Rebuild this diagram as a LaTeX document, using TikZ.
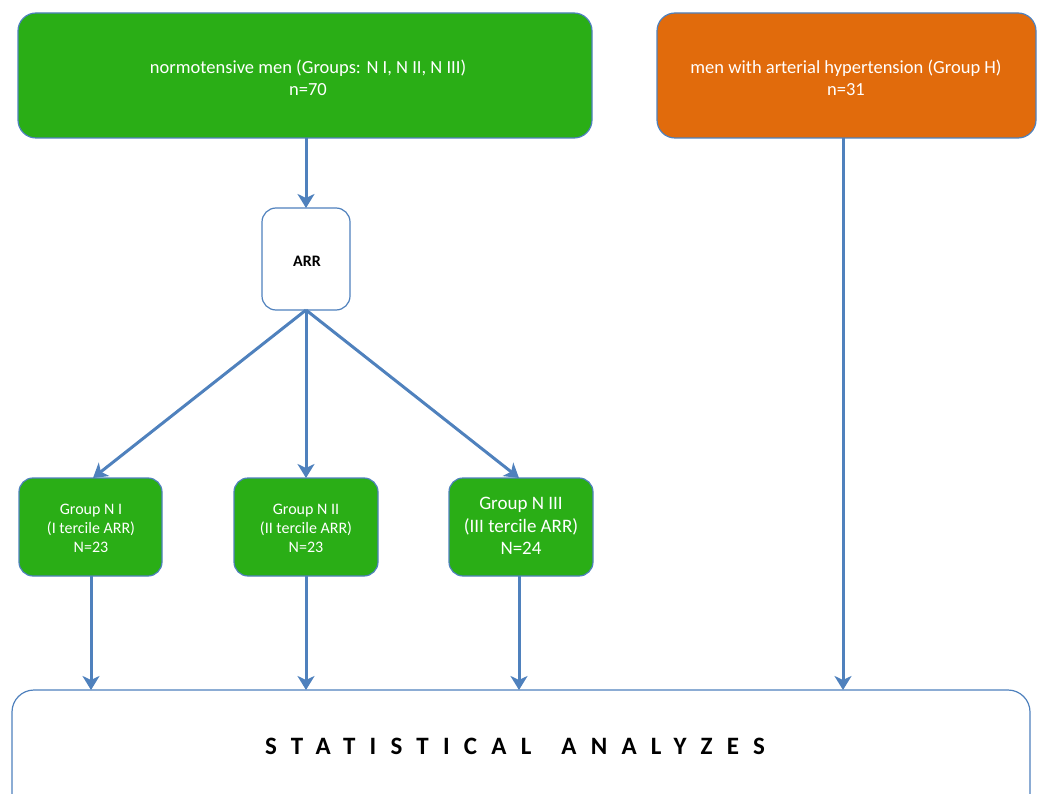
\documentclass[tikz,border=0pt]{standalone}
\usepackage{fontspec}
\setmainfont{Carlito}
\usetikzlibrary{arrows.meta}
\definecolor{bordblue}{HTML}{4F81BD}
\definecolor{grn}{HTML}{2AAE16}
\definecolor{org}{HTML}{E16B0C}
\begin{document}
\begin{tikzpicture}[x=1pt,y=-1pt,
  box/.style={draw=bordblue,line width=1.2pt,rounded corners=#1},
  box/.default=18pt,
  lbl/.style={align=center,text=white,inner sep=0pt},
  conn/.style={draw=bordblue,line width=3pt,-{Stealth[length=14pt,width=17pt,inset=4pt]}}]
\useasboundingbox (0,0) rectangle (1044,794);
\begin{scope}
\clip (0,0) rectangle (1044,794);
% boxes
\path[box,fill=grn] (18,13) rectangle (592,138);
\node[lbl,font=\fontsize{18.5}{22}\selectfont] (top) at (308,78) {normotensive men (Groups: N I, N II, N III)\\n=70};
\coordinate (topS) at (306,138);
\path[box,fill=org] (657,13) rectangle (1036,138);
\node[lbl,font=\fontsize{18.5}{22}\selectfont] (hyp) at (846,78) {men with arterial hypertension (Group H)\\n=31};
\coordinate (hypS) at (843,138);
\path[box=14pt,fill=white] (262,208) rectangle (350,310);
\node[inner sep=0pt,font=\bfseries\fontsize{16}{18}\selectfont] (arr) at (307,261) {ARR};
\coordinate (arrN) at (306,208);
\coordinate (arrS) at (306,310);
\path[box=14pt,fill=grn] (19,478) rectangle (162,576);
\node[lbl,font=\fontsize{16}{19}\selectfont] (g1) at (91,528) {Group N I\\(I tercile ARR)\\N=23};
\path[box=14pt,fill=grn] (234,478) rectangle (378,576);
\node[lbl,font=\fontsize{16}{19}\selectfont] (g2) at (306,528) {Group N II\\(II tercile ARR)\\N=23};
\path[box=14pt,fill=grn] (449,478) rectangle (593,576);
\node[lbl,font=\fontsize{19}{22.5}\selectfont] (g3) at (521,526) {Group N III\\(III tercile ARR)\\N=24};
\path[box=22pt,fill=white] (12,690) rectangle (1030,830);
\node[inner sep=0pt,font=\fontsize{25}{28}\selectfont\bfseries\addfontfeature{LetterSpace=57}] (stat) at (515,746) {\hbox{STATISTICAL}\kern30pt\hbox{ANALYZES}};
\coordinate (g1N) at (93,478);
\coordinate (g2N) at (306,478);
\coordinate (g3N) at (519,478);
\coordinate (g1S) at (91,576);
\coordinate (g2S) at (306,576);
\coordinate (g3S) at (519,576);
\coordinate (s1) at (91,690);
\coordinate (s2) at (306,690);
\coordinate (s3) at (519,690);
\coordinate (s4) at (843,690);
% connectors
\draw[conn] (topS) -- (arrN);
\draw[conn] (arrS) -- (g1N);
\draw[conn] (arrS) -- (g2N);
\draw[conn] (arrS) -- (g3N);
\draw[conn] (g1S) -- (s1);
\draw[conn] (g2S) -- (s2);
\draw[conn] (g3S) -- (s3);
\draw[conn] (hypS) -- (s4);
\end{scope}
\end{tikzpicture}
\end{document}
